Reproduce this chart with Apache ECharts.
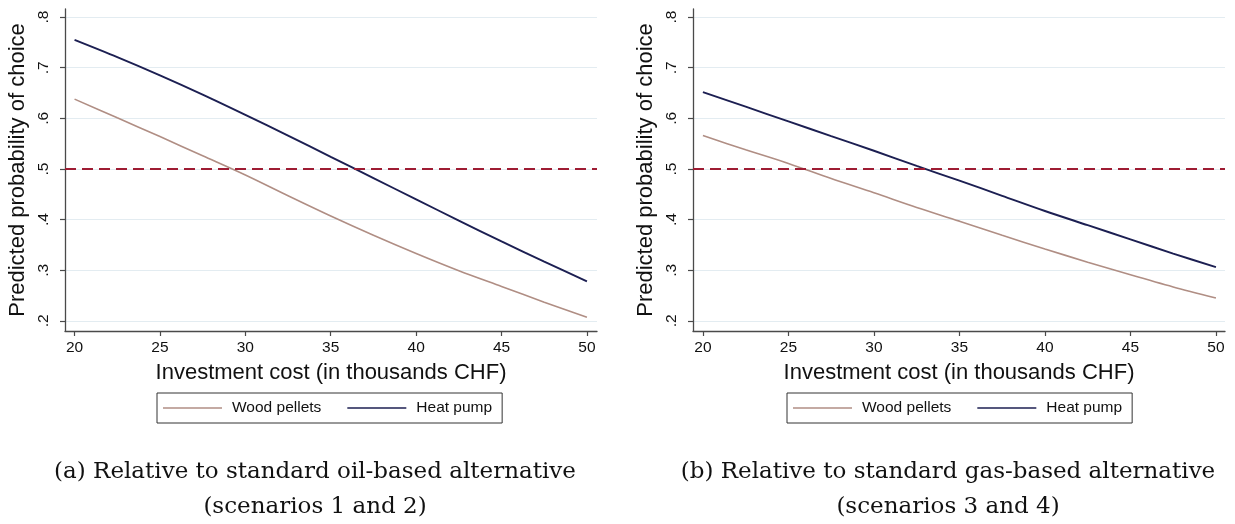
<!DOCTYPE html>
<html>
<head>
<meta charset="utf-8">
<script src="https://cdn.jsdelivr.net/npm/echarts@6/dist/echarts.min.js"></script>
<style>
html,body{margin:0;padding:0;background:#fff;}
#c{width:1235px;height:524px;}
</style>
</head>
<body>
<div id="c"></div>
<script>
// ---- data ----
const xTicks = [20, 25, 30, 35, 40, 45, 50];
const yTicks = [0.2, 0.3, 0.4, 0.5, 0.6, 0.7, 0.8];
const cost = [20, 22.5, 25, 27.5, 30, 32.5, 35, 37.5, 40, 42.5, 45, 47.5, 50];
// (a) relative to oil-based alternative
const pelletsA = [0.638, 0.601, 0.564, 0.526, 0.488, 0.447, 0.407, 0.369, 0.333, 0.299, 0.268, 0.237, 0.207];
const heatA    = [0.755, 0.721, 0.685, 0.647, 0.607, 0.566, 0.524, 0.482, 0.440, 0.398, 0.357, 0.317, 0.278];
// (b) relative to gas-based alternative
const pelletsB = [0.566, 0.538, 0.511, 0.481, 0.453, 0.424, 0.397, 0.369, 0.342, 0.316, 0.291, 0.267, 0.245];
const heatB    = [0.652, 0.623, 0.594, 0.565, 0.536, 0.506, 0.477, 0.447, 0.417, 0.389, 0.361, 0.333, 0.306];
const refLine = 0.5;
const seriesNames = ['Wood pellets', 'Heat pump'];
const xTitle = 'Investment cost (in thousands CHF)';
const yTitle = 'Predicted probability of choice';
const captions = [
  '(a) Relative to standard oil-based alternative\n(scenarios 1 and 2)',
  '(b) Relative to standard gas-based alternative\n(scenarios 3 and 4)'
];

// ---- styles ----
const SANS = 'Liberation Sans, Arial, sans-serif';
const SERIF = 'DejaVu Serif, serif';
const axisColor = '#4a4a4a';
const pelletColor = '#b08e84';
const heatColor = '#1c1f52';
const refColor = '#9e1c33';

function pairs(xs, ys) { return xs.map((x, i) => [x, ys[i]]); }

function xAxisDef(idx, min, max) {
  return {
    type: 'value', gridIndex: idx, min: min, max: max,
    name: xTitle, nameLocation: 'middle', nameGap: 31,
    nameTextStyle: { fontFamily: SANS, fontSize: 22, color: '#111' },
    axisLine: { show: true, onZero: false, lineStyle: { color: axisColor, width: 1.3 } },
    axisTick: { show: true, customValues: xTicks, length: 5, lineStyle: { color: axisColor, width: 1.2 } },
    axisLabel: { customValues: xTicks, margin: 9, fontFamily: SANS, fontSize: 15.5, color: '#111' },
    splitLine: { show: false }
  };
}
function yAxisDef(idx) {
  return {
    type: 'value', gridIndex: idx, min: 0.18, max: 0.816,
    name: yTitle, nameLocation: 'middle', nameGap: 36, nameRotate: 90,
    nameTextStyle: { fontFamily: SANS, fontSize: 22, color: '#111' },
    axisLine: { show: true, onZero: false, lineStyle: { color: axisColor, width: 1.3 } },
    axisTick: { show: true, customValues: yTicks, length: 5, lineStyle: { color: axisColor, width: 1.2 } },
    axisLabel: {
      customValues: yTicks, rotate: 90, margin: 13, fontFamily: SANS, fontSize: 15.5, color: '#111',
      formatter: v => String(+v.toFixed(1)).replace(/^0/, '')
    },
    splitLine: { show: true, lineStyle: { color: '#e3ecf1', width: 1 } }
  };
}
function lineSeries(name, idx, ys, color, width, withRef) {
  const s = {
    name: name, type: 'line', xAxisIndex: idx, yAxisIndex: idx,
    data: pairs(cost, ys), smooth: 0.3, showSymbol: false, symbol: 'none',
    lineStyle: { color: color, width: width }, itemStyle: { color: color },
    emphasis: { disabled: true }, animation: false, z: 3
  };
  if (withRef) {
    s.markLine = {
      silent: true, symbol: 'none', label: { show: false },
      lineStyle: { color: refColor, type: [11, 6], width: 1.8 },
      data: [{ yAxis: refLine }], animation: false
    };
  }
  return s;
}
function legendDef(left) {
  return {
    left: left, top: 393, orient: 'horizontal',
    data: seriesNames, icon: 'rect', itemWidth: 59, itemHeight: 1.6, itemGap: 26,
    padding: [7, 10, 7, 6], borderColor: '#333', borderWidth: 1, borderRadius: 0,
    textStyle: { fontFamily: SANS, fontSize: 15.5, color: '#111', padding: [0, 0, 0, 5] },
    selectedMode: false
  };
}

const chart = echarts.init(document.getElementById('c'), null, { renderer: 'canvas' });
chart.setOption({
  backgroundColor: '#fff',
  animation: false,
  color: [pelletColor, heatColor],
  grid: [
    { left: 65, right: 1235 - 597, top: 9, bottom: 524 - 331, containLabel: false },
    { left: 693, right: 1235 - 1225, top: 9, bottom: 524 - 331, containLabel: false }
  ],
  xAxis: [xAxisDef(0, 19.44, 50.59), xAxisDef(1, 19.42, 50.53)],
  yAxis: [yAxisDef(0), yAxisDef(1)],
  legend: [legendDef(157), legendDef(787)],
  title: [
    { text: captions[0], left: 310, top: 450, textAlign: 'center',
      textStyle: { fontFamily: SERIF, fontSize: 23, fontWeight: 'normal', color: '#111', lineHeight: 35 } },
    { text: captions[1], left: 943, top: 450, textAlign: 'center',
      textStyle: { fontFamily: SERIF, fontSize: 23, fontWeight: 'normal', color: '#111', lineHeight: 35 } }
  ],
  series: [
    lineSeries(seriesNames[0], 0, pelletsA, pelletColor, 1.6, true),
    lineSeries(seriesNames[1], 0, heatA, heatColor, 1.9, false),
    lineSeries(seriesNames[0], 1, pelletsB, pelletColor, 1.6, true),
    lineSeries(seriesNames[1], 1, heatB, heatColor, 1.9, false)
  ]
});
</script>
</body>
</html>
